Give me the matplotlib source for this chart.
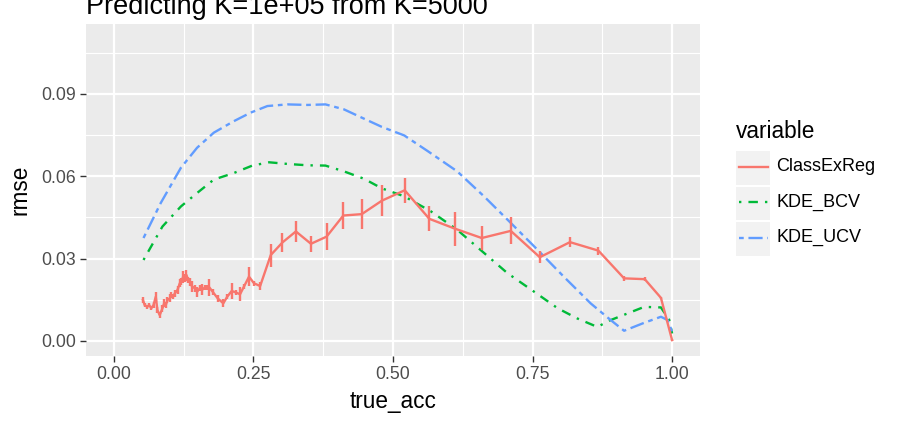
import matplotlib
matplotlib.use("Agg")
import matplotlib.pyplot as plt
from matplotlib.lines import Line2D
from matplotlib.patches import Rectangle

plt.rcParams['font.family'] = ['Liberation Sans', 'DejaVu Sans']

title = "Predicting K=1e+05 from K=5000"
series_names = ["ClassExReg", "KDE_BCV", "KDE_UCV"]
colors = ["#F8766D", "#00BA38", "#619CFF"]

# ClassExReg: true_acc, rmse, error bar half-height
cer_x = [0.052, 0.055, 0.060, 0.063, 0.067, 0.071, 0.075, 0.078, 0.082, 0.087,
         0.090, 0.093, 0.096, 0.100, 0.103, 0.106, 0.109, 0.114, 0.118, 0.121,
         0.124, 0.127, 0.130, 0.133, 0.136, 0.140, 0.145, 0.149, 0.154, 0.158,
         0.163, 0.167, 0.171, 0.177, 0.186, 0.196, 0.203, 0.211, 0.218, 0.226,
         0.233, 0.242, 0.251, 0.262, 0.281, 0.302, 0.326, 0.353, 0.381, 0.411,
         0.444, 0.480, 0.521, 0.565, 0.611, 0.659, 0.711, 0.763, 0.817, 0.868,
         0.914, 0.951, 0.980, 1.000]
cer_y = [0.0149, 0.0131, 0.0124, 0.0131, 0.0119, 0.0131, 0.0161, 0.0112, 0.0094, 0.0119,
         0.0137, 0.0131, 0.0149, 0.0155, 0.0167, 0.0161, 0.0173, 0.0186, 0.0210, 0.0216,
         0.0234, 0.0228, 0.0240, 0.0222, 0.0216, 0.0198, 0.0192, 0.0179, 0.0192, 0.0186,
         0.0195, 0.0194, 0.0195, 0.0179, 0.0155, 0.0137, 0.0161, 0.0182, 0.0177, 0.0170,
         0.0198, 0.0234, 0.0210, 0.0200, 0.0313, 0.0359, 0.0399, 0.0354, 0.0380, 0.0457,
         0.0462, 0.0511, 0.0549, 0.0445, 0.0409, 0.0375, 0.0401, 0.0305, 0.0360, 0.0329,
         0.0228, 0.0225, 0.0157, 0.0003]
cer_err = [0.0010, 0.0008, 0.0008, 0.0008, 0.0008, 0.0010, 0.0018, 0.0010, 0.0012, 0.0012,
           0.0015, 0.0010, 0.0010, 0.0015, 0.0012, 0.0010, 0.0012, 0.0015, 0.0015, 0.0012,
           0.0022, 0.0015, 0.0020, 0.0012, 0.0015, 0.0020, 0.0012, 0.0018, 0.0010, 0.0020,
           0.0010, 0.0010, 0.0030, 0.0010, 0.0012, 0.0015, 0.0010, 0.0028, 0.0010, 0.0025,
           0.0010, 0.0035, 0.0010, 0.0015, 0.0042, 0.0034, 0.0037, 0.0030, 0.0048, 0.0050,
           0.0055, 0.0056, 0.0045, 0.0046, 0.0062, 0.0044, 0.0049, 0.0022, 0.0018, 0.0015,
           0.0010, 0.0008, 0.0003, 0.0003]

bcv_x = [0.053, 0.087, 0.120, 0.149, 0.179, 0.215, 0.248, 0.278, 0.311, 0.347,
         0.379, 0.412, 0.448, 0.480, 0.520, 0.568, 0.615, 0.660, 0.705, 0.753,
         0.795, 0.830, 0.866, 0.890, 0.920, 0.950, 0.980, 0.995, 1.000]
bcv_y = [0.0295, 0.0417, 0.0490, 0.0539, 0.0588, 0.0612, 0.0639, 0.0651, 0.0645, 0.0640,
         0.0639, 0.0618, 0.0591, 0.0556, 0.0527, 0.0472, 0.0405, 0.0326, 0.0247, 0.0179,
         0.0119, 0.0082, 0.0051, 0.0076, 0.0100, 0.0124, 0.0122, 0.0076, 0.0027]

ucv_x = [0.053, 0.084, 0.120, 0.149, 0.179, 0.215, 0.245, 0.275, 0.311, 0.347,
         0.379, 0.412, 0.448, 0.480, 0.520, 0.562, 0.615, 0.663, 0.711, 0.759,
         0.806, 0.854, 0.890, 0.914, 0.950, 0.980, 0.992, 1.000]
ucv_y = [0.0375, 0.0503, 0.0631, 0.0704, 0.0759, 0.0801, 0.0832, 0.0856, 0.0862, 0.0860,
         0.0862, 0.0844, 0.0810, 0.0780, 0.0749, 0.0692, 0.0618, 0.0527, 0.0430, 0.0332,
         0.0234, 0.0137, 0.0076, 0.0037, 0.0066, 0.0088, 0.0076, 0.0033]

x_ticks = [0.0, 0.25, 0.5, 0.75, 1.0]
x_labels = ["0.00", "0.25", "0.50", "0.75", "1.00"]
y_ticks = [0.0, 0.03, 0.06, 0.09]
y_labels = ["0.00", "0.03", "0.06", "0.09"]

W, H = 900, 424
fig = plt.figure(figsize=(9, 4.24), dpi=100)
ax = fig.add_axes([86 / W, (H - 356) / H, (700 - 86) / W, (356 - 24) / H])
ax.set_facecolor("#EBEBEB")
for s in ax.spines.values():
    s.set_visible(False)

ax.set_xlim(-0.05, 1.05)
ax.set_ylim(-0.0055, 0.1155)

# grid
for v in [0.125, 0.375, 0.625, 0.875]:
    ax.axvline(v, color="white", lw=0.8, zorder=0)
for v in [0.015, 0.045, 0.075, 0.105]:
    ax.axhline(v, color="white", lw=0.8, zorder=0)
for v in x_ticks:
    ax.axvline(v, color="white", lw=1.6, zorder=0)
for v in y_ticks:
    ax.axhline(v, color="white", lw=1.6, zorder=0)

lw = 1.7
ax.plot(cer_x, cer_y, color=colors[0], lw=lw, zorder=3)
ax.vlines(cer_x, [a - b for a, b in zip(cer_y, cer_err)],
          [a + b for a, b in zip(cer_y, cer_err)], color=colors[0], lw=lw, zorder=3)
ax.plot(bcv_x, bcv_y, color=colors[1], lw=lw, dashes=(1, 3, 4, 3), zorder=2)
ax.plot(ucv_x, ucv_y, color=colors[2], lw=lw, dashes=(2, 2, 6, 2), zorder=2)

ax.set_xticks(x_ticks)
ax.set_xticklabels(x_labels)
ax.set_yticks(y_ticks)
ax.set_yticklabels(y_labels)
ax.tick_params(length=4, width=1, color="#333333", labelcolor="#4D4D4D",
               labelsize=12.7, pad=3)
ax.set_xlabel("true_acc", fontsize=16.3, labelpad=5)
ax.set_ylabel("rmse", fontsize=16.3, labelpad=7)

fig.text(86 / W, 1 - 14 / H, title, fontsize=19.5, ha="left", va="baseline")

# legend
fig.text(736 / W, 1 - 138 / H, "variable", fontsize=16.3, ha="left", va="baseline")
key_h = 35.5
for i, name in enumerate(series_names):
    top = 150 + i * key_h
    fig.patches.append(Rectangle((736 / W, 1 - (top + key_h - 1) / H), 34 / W, (key_h - 2) / H,
                                 transform=fig.transFigure, facecolor="#F2F2F2",
                                 edgecolor="none"))
    yc = 1 - (top + key_h / 2 - 1) / H
    ln = Line2D([739 / W, 768 / W], [yc, yc], transform=fig.transFigure,
                color=colors[i], lw=lw)
    if i == 1:
        ln.set_dashes((1, 3, 4, 3))
    elif i == 2:
        ln.set_dashes((2, 2, 6, 2))
    fig.lines.append(ln)
    fig.text(776 / W, yc, name, fontsize=13, ha="left", va="center")

fig.savefig("out.png", dpi=100)
